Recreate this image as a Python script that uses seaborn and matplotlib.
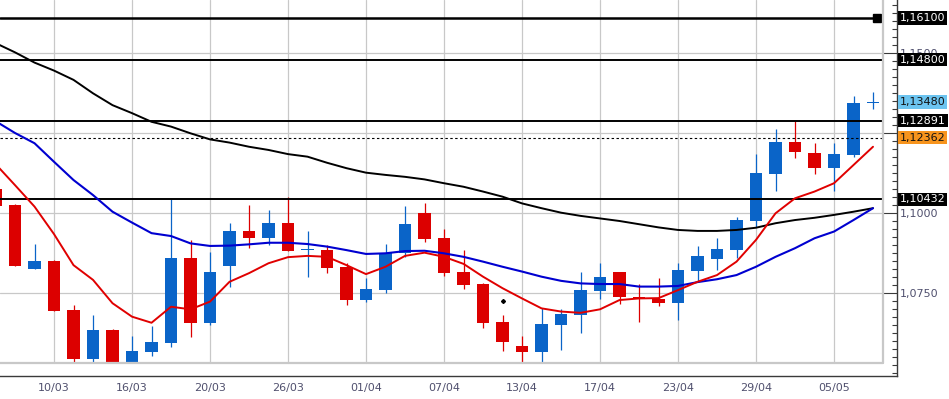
import numpy as np
import matplotlib
matplotlib.use("Agg")
import matplotlib.pyplot as plt
import seaborn as sns

# daily EUR/USD candles, 05/03 .. 07/05
dates = ["05/03", "06/03", "09/03", "10/03", "11/03", "12/03", "13/03",
         "16/03", "17/03", "18/03", "19/03", "20/03",
         "23/03", "24/03", "25/03", "26/03", "27/03",
         "30/03", "31/03", "01/04", "02/04", "03/04",
         "06/04", "07/04", "08/04", "09/04", "10/04",
         "13/04", "14/04", "15/04", "16/04", "17/04",
         "20/04", "21/04", "22/04", "23/04", "24/04",
         "27/04", "28/04", "29/04", "30/04", "01/05",
         "04/05", "05/05", "06/05", "07/05"]

opens = [1.1075, 1.1026, 1.0826, 1.0851, 1.0698, 1.0546, 1.0635, 1.0533, 1.0568, 1.0596,
         1.0860, 1.0658, 1.0836, 1.0945, 1.0924, 1.0971, 1.0884, 1.0885, 1.0832, 1.0730,
         1.0761, 1.0877, 1.1000, 1.0922, 1.0817, 1.0779, 1.0659, 1.0585, 1.0568, 1.0652,
         1.0683, 1.0758, 1.0816, 1.0738, 1.0733, 1.0721, 1.0821, 1.0857, 1.0885, 1.0977,
         1.1124, 1.1223, 1.1188, 1.1143, 1.1183, 1.1344]
highs = [1.1114, 1.1030, 1.0904, 1.0853, 1.0713, 1.0682, 1.0637, 1.0617, 1.0648, 1.1045,
         1.0917, 1.0880, 1.0971, 1.1026, 1.1010, 1.1050, 1.0945, 1.0901, 1.0845, 1.0798,
         1.0903, 1.1023, 1.1033, 1.0951, 1.0885, 1.0783, 1.0682, 1.0617, 1.0703, 1.0701,
         1.0817, 1.0846, 1.0817, 1.0779, 1.0797, 1.0846, 1.0899, 1.0923, 1.0989, 1.1185,
         1.1263, 1.1289, 1.1219, 1.1221, 1.1368, 1.1378]
lows = [1.1000, 1.0836, 1.0825, 1.0694, 1.0532, 1.0532, 1.0532, 1.0532, 1.0555, 1.0583,
        1.0614, 1.0652, 1.0769, 1.0893, 1.0901, 1.0881, 1.0802, 1.0813, 1.0713, 1.0722,
        1.0752, 1.0864, 1.0910, 1.0804, 1.0764, 1.0641, 1.0571, 1.0532, 1.0532, 1.0573,
        1.0627, 1.0731, 1.0717, 1.0661, 1.0711, 1.0667, 1.0786, 1.0823, 1.0859, 1.0958,
        1.1071, 1.1174, 1.1123, 1.1070, 1.1175, 1.1325]
closes = [1.1024, 1.0836, 1.0852, 1.0696, 1.0546, 1.0635, 1.0533, 1.0570, 1.0598, 1.0860,
          1.0658, 1.0817, 1.0945, 1.0924, 1.0971, 1.0882, 1.0886, 1.0830, 1.0730, 1.0763,
          1.0877, 1.0967, 1.0921, 1.0814, 1.0777, 1.0658, 1.0599, 1.0568, 1.0654, 1.0685,
          1.0760, 1.0800, 1.0738, 1.0731, 1.0721, 1.0823, 1.0867, 1.0888, 1.0979, 1.1126,
          1.1223, 1.1191, 1.1143, 1.1185, 1.1345, 1.1348]

ma_fast = [1.1154, 1.1088, 1.1021, 1.0935, 1.0838, 1.0792, 1.0719, 1.0677, 1.0658, 1.0708,
           1.0700, 1.0724, 1.0786, 1.0813, 1.0844, 1.0863, 1.0867, 1.0864, 1.0838, 1.0810,
           1.0833, 1.0867, 1.0877, 1.0864, 1.0842, 1.0802, 1.0766, 1.0734, 1.0703, 1.0693,
           1.0689, 1.0700, 1.0729, 1.0734, 1.0735, 1.0760, 1.0786, 1.0807, 1.0849, 1.0917,
           1.1000, 1.1047, 1.1068, 1.1094, 1.1151, 1.1208]
ma_mid = [1.1288, 1.1251, 1.1219, 1.1161, 1.1104, 1.1057, 1.1005, 1.0971, 1.0938, 1.0929,
          1.0906, 1.0898, 1.0899, 1.0903, 1.0908, 1.0908, 1.0904, 1.0896, 1.0885, 1.0873,
          1.0875, 1.0882, 1.0883, 1.0875, 1.0864, 1.0849, 1.0833, 1.0818, 1.0802, 1.0789,
          1.0781, 1.0779, 1.0779, 1.0771, 1.0771, 1.0773, 1.0785, 1.0794, 1.0807, 1.0833,
          1.0864, 1.0891, 1.0922, 1.0943, 1.0979, 1.1016]
ma_slow = [1.1532, 1.1503, 1.1471, 1.1446, 1.1417, 1.1375, 1.1338, 1.1313, 1.1286, 1.1271,
           1.1250, 1.1231, 1.1221, 1.1208, 1.1198, 1.1185, 1.1177, 1.1158, 1.1141, 1.1127,
           1.1120, 1.1114, 1.1106, 1.1094, 1.1083, 1.1068, 1.1052, 1.1031, 1.1016, 1.1002,
           1.0992, 1.0984, 1.0976, 1.0966, 1.0956, 1.0948, 1.0945, 1.0945, 1.0948, 1.0955,
           1.0969, 1.0979, 1.0986, 1.0995, 1.1005, 1.1016]

levels = [1.16100, 1.14800, 1.12891, 1.10432]
pivot_level = 1.12362
last_price = 1.13480
dot_date, dot_price = "10/04", 1.0726

tick_dates = ["10/03", "16/03", "20/03", "26/03", "01/04", "07/04",
              "13/04", "17/04", "23/04", "29/04", "05/05"]
price_ticks = [1.0750, 1.1000, 1.1250, 1.1500]
hidden_ticks = [1.1250]  # sits fully under the price boxes

# colours
UP = "#0a64c8"
DOWN = "#dc0000"
GRID = "#c8c8c8"
AXC = "#3a3a3a"
LBL = "#50506e"

sns.set_style("white")
plt.rcParams["font.family"] = ["DejaVu Sans"]

W, H = 949, 399
fig = plt.figure(figsize=(W / 100, H / 100), dpi=100)
ax = fig.add_axes([0, 23 / H, 897 / W, 376 / H])

idx = np.arange(len(dates))
o = np.array(opens); c = np.array(closes)
hi = np.array(highs); lo = np.array(lows)
up = c >= o
cols = np.where(up, UP, DOWN)

ax.set_xlim(0.23, 46.23)
ax.set_ylim(1.04916, 1.16666)

inner_x = 883 / 897
inner_y = 13 / 376

# grid
tick_idx = [dates.index(d) for d in tick_dates]
for t in tick_idx:
    ax.axvline(t, ymin=inner_y, ymax=1, color=GRID, lw=0.9, zorder=1)
for p in price_ticks:
    ax.axhline(p, xmin=0, xmax=inner_x, color=GRID, lw=0.9, zorder=1)

# candles
ax.vlines(idx, lo, hi, colors=cols, lw=0.9, zorder=2.5)
body = np.maximum(np.abs(c - o), 0.0004)
ax.bar(idx, body, bottom=np.minimum(o, c), width=0.62, color=cols, lw=0, zorder=3)

# levels
for k, lv in enumerate(levels):
    if k == 0:
        ax.axhline(lv, xmin=0, xmax=873 / 897, color="black", lw=1.8, zorder=4)
        ax.plot([877 / 897], [lv], marker="s", ms=5.5, color="black",
                transform=ax.get_yaxis_transform(), clip_on=False, zorder=4)
    else:
        ax.axhline(lv, xmin=0, xmax=inner_x, color="black", lw=1.4, zorder=4)
ax.axhline(pivot_level, xmin=0, xmax=inner_x, color="black", lw=0.8,
           ls=(0, (2.2, 2.2)), zorder=4)

# moving averages
sns.lineplot(x=idx, y=ma_slow, color="black", lw=1.4, ax=ax, zorder=5)
sns.lineplot(x=idx, y=ma_mid, color="#0000d0", lw=1.5, ax=ax, zorder=5)
sns.lineplot(x=idx, y=ma_fast, color="#e00000", lw=1.4, ax=ax, zorder=5)
ax.plot(dates.index(dot_date), dot_price, marker="D", ms=2, color="black", zorder=5)

# inner plot border
ax.plot([inner_x, inner_x], [inner_y, 1], transform=ax.transAxes, color=GRID,
        lw=1.6, clip_on=False, zorder=6)
ax.plot([0, inner_x], [inner_y, inner_y], transform=ax.transAxes, color=GRID,
        lw=1.6, clip_on=False, zorder=6)

# axes
for s in ["left", "top"]:
    ax.spines[s].set_visible(False)
for s in ["right", "bottom"]:
    ax.spines[s].set_color(AXC)
    ax.spines[s].set_linewidth(1.0)

ax.yaxis.tick_right()
ax.set_xticks(tick_idx)
ax.set_xticklabels(tick_dates)
ax.set_xticks(np.arange(0.5, 46.5, 0.5), minor=True)
ax.set_yticks(price_ticks)
ax.set_yticklabels(["" if p in hidden_ticks else f"{p:.4f}".replace(".", ",")
                    for p in price_ticks])
ax.set_yticks(np.round(np.arange(1.05, 1.1675, 0.0025), 4), minor=True)
ax.tick_params(axis="x", which="major", direction="in", length=9.5, width=0.8,
               color=AXC, labelsize=8, labelcolor=LBL, pad=5)
ax.tick_params(axis="x", which="minor", direction="in", length=4.3, width=0.8, color=AXC)
ax.tick_params(axis="y", which="major", direction="in", length=10, width=0.8,
               color=AXC, labelsize=8, labelcolor=LBL, pad=2)
ax.tick_params(axis="y", which="minor", direction="in", length=3.6, width=0.8, color=AXC)
ax.set_xlabel("")
ax.set_ylabel("")

# price boxes on the right
boxes = [(levels[0], "black", "white"), (levels[1], "black", "white"),
         (last_price, "#6cc4f0", "#111111"), (levels[2], "black", "white"),
         (pivot_level, "#f7941d", "#111111"), (levels[3], "black", "white")]
for val, fc, tc in boxes:
    ax.text(900 / 897, val, f"{val:.5f}".replace(".", ","), transform=ax.get_yaxis_transform(),
            ha="left", va="center", fontsize=8, color=tc, clip_on=False, zorder=10,
            bbox=dict(boxstyle="square,pad=0.15", fc=fc, ec="none"))

fig.savefig("out.png", dpi=100)
